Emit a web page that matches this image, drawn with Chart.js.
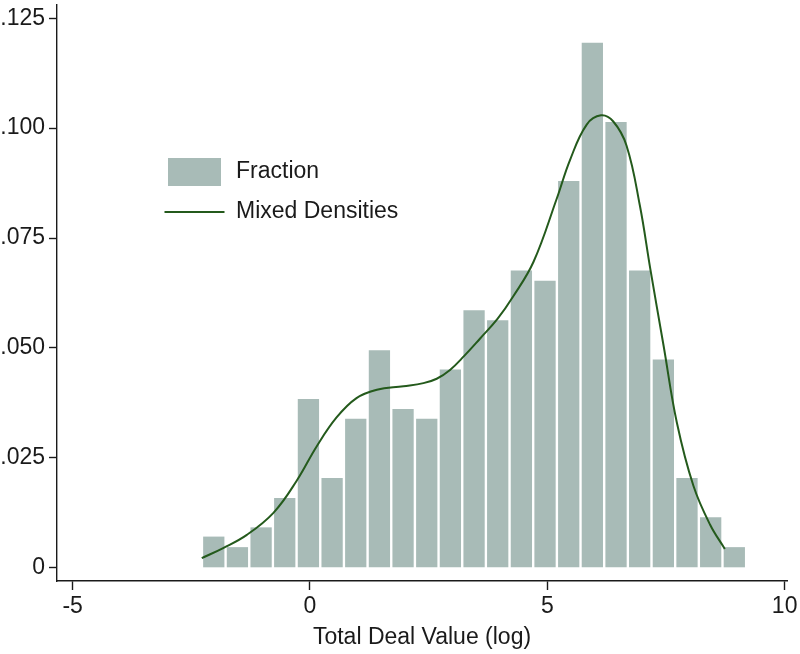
<!DOCTYPE html>
<html>
<head>
<meta charset="utf-8">
<script src="https://cdn.jsdelivr.net/npm/chart.js@4.4.0/dist/chart.umd.min.js"></script>
<style>
  html, body { margin: 0; padding: 0; background: #fff; }
  #wrap { width: 800px; height: 654px; }
</style>
</head>
<body>
<div id="wrap"><canvas id="dealChart"></canvas></div>
<script>
// histogram bins (centre of each bin, log deal value) and share of deals per bin
const binCenters = [-2.027, -1.529, -1.030, -0.532, -0.033, 0.466, 0.964, 1.463, 1.961, 2.460, 2.958, 3.457,
    3.955, 4.454, 4.952, 5.451, 5.949, 6.448, 6.946, 7.445, 7.943, 8.442, 8.940]
const fractions = [.0071, .0047, .0092, .0159, .0384, .0204, .0339, .0495, .0361, .0339, .0451, .0586,
    .0563, .0676, .0653, .0880, .1194, .1014, .0676, .0474, .0204, .0115, .0047]

// mixed density curve
const densityX = [-2.28, -1.83, -1.33, -0.77, -0.28, 0.14, 0.56, 0.98, 1.41, 1.97, 2.39, 2.67, 2.95, 3.25, 3.58,
    3.95, 4.28, 4.71, 5.20, 5.48, 5.83, 6.13, 6.39, 6.67, 6.95, 7.17, 7.45, 7.73, 8.08, 8.43, 8.74]
const densityY = [.0022, .0045, .0075, .0125, .0198, .0276, .0342, .0386, .0405, .0413, .0420, .0430, .0450, .0482, .0521,
    .0566, .0617, .0696, .0840, .0928, .1008, .1029, .1015, .0960, .0824, .0680, .0505, .0330, .0186, .0098, .0043]

const xTicks = [-5, 0, 5, 10]
const yTicks = [0, .025, .05, .075, .1, .125]
const yTickLabels = ['0', '.025', '.050', '.075', '.100', '.125']
const seriesNames = ['Fraction', 'Mixed Densities']

const barColor = '#a8bbb7'
const lineColor = '#245a1c'
const inkColor = '#1a1a1a'

Chart.defaults.font.family = '"Liberation Sans", Arial, Helvetica, sans-serif'
Chart.defaults.color = inkColor

// legend swatch for the bars
const swatch = document.createElement('canvas')
swatch.width = 53
swatch.height = 28
const sctx = swatch.getContext('2d')
sctx.fillStyle = barColor
sctx.fillRect(0, 0, 53, 28)

// put the legend inside the plot, upper left
const legendMover = {
    id: 'legendMover',
    afterLayout(chart) {
        const lg = chart.legend
        if (!lg) return
        const w = lg.width, h = lg.height
        lg.left = 147.5
        lg.top = 143.5
        lg.right = lg.left + w
        lg.bottom = lg.top + h
    }
}

// keep the plot box where the reference has it (no extra room for edge labels)
function noEdgePadding(scale) {
    scale.paddingTop = 0
    scale.paddingBottom = 0
    scale.paddingLeft = 0
    scale.paddingRight = 0
}

const ctx = document.getElementById('dealChart').getContext('2d')

new Chart(ctx, {
    type: 'bar',
    data: {
        datasets: [
            {
                type: 'line',
                label: seriesNames[1],
                data: densityX.map((x, i) => ({ x: x, y: densityY[i] })),
                borderColor: lineColor,
                borderWidth: 2,
                pointRadius: 0,
                fill: false,
                tension: 0.4,
                order: 0,
            },
            {
                type: 'bar',
                label: seriesNames[0],
                data: binCenters.map((x, i) => ({ x: x, y: fractions[i] })),
                backgroundColor: barColor,
                borderWidth: 0,
                barPercentage: 0.9,
                categoryPercentage: 1,
                order: 1,
            },
        ]
    },
    options: {
        responsive: true,
        maintainAspectRatio: false,
        animation: false,
        layout: {
            padding: { top: 5, right: 13, left: 0, bottom: 0 },
        },
        plugins: {
            tooltip: { enabled: false },
            legend: {
                display: true,
                position: 'chartArea',
                align: 'start',
                labels: {
                    usePointStyle: true,
                    pointStyleWidth: 60,
                    padding: 17,
                    color: inkColor,
                    font: { size: 23 },
                    generateLabels: function() {
                        return [
                            { text: seriesNames[0], pointStyle: swatch, fillStyle: barColor, strokeStyle: barColor, lineWidth: 0, hidden: false, datasetIndex: 1, fontColor: inkColor },
                            { text: seriesNames[1], pointStyle: 'line', fillStyle: lineColor, strokeStyle: lineColor, lineWidth: 2, hidden: false, datasetIndex: 0, fontColor: inkColor },
                        ]
                    },
                },
            },
        },
        scales: {
            x: {
                type: 'linear',
                min: -5.33,
                max: 10.05,
                offset: false,
                afterBuildTicks: function(scale) {
                    scale.ticks = xTicks.map(v => ({ value: v }))
                },
                afterFit: function(scale) {
                    scale.height = 73
                    noEdgePadding(scale)
                },
                ticks: {
                    autoSkip: false,
                    maxRotation: 0,
                    padding: 3,
                    font: { size: 23 },
                    color: inkColor,
                    callback: function(value) {
                        return String(value)
                    },
                },
                grid: {
                    offset: false,
                    drawOnChartArea: false,
                    drawTicks: true,
                    tickLength: 9,
                    tickColor: inkColor,
                    tickWidth: 1.4,
                },
                border: {
                    display: true,
                    color: inkColor,
                    width: 1.4,
                },
                title: {
                    display: true,
                    text: 'Total Deal Value (log)',
                    font: { size: 23 },
                    color: inkColor,
                    padding: { top: 2, bottom: 3 },
                },
            },
            y: {
                type: 'linear',
                min: -0.003,
                max: 0.128,
                afterBuildTicks: function(scale) {
                    scale.ticks = yTicks.map(v => ({ value: v }))
                },
                afterFit: function(scale) {
                    scale.width = 57
                    noEdgePadding(scale)
                },
                ticks: {
                    autoSkip: false,
                    padding: 4,
                    font: { size: 23 },
                    color: inkColor,
                    callback: function(value) {
                        const i = yTicks.indexOf(value)
                        return i >= 0 ? yTickLabels[i] : ''
                    },
                },
                grid: {
                    offset: false,
                    drawOnChartArea: false,
                    drawTicks: true,
                    tickLength: 8,
                    tickColor: inkColor,
                    tickWidth: 1.4,
                },
                border: {
                    display: true,
                    color: inkColor,
                    width: 1.4,
                },
            },
        },
    },
    plugins: [legendMover],
})
</script>
</body>
</html>
